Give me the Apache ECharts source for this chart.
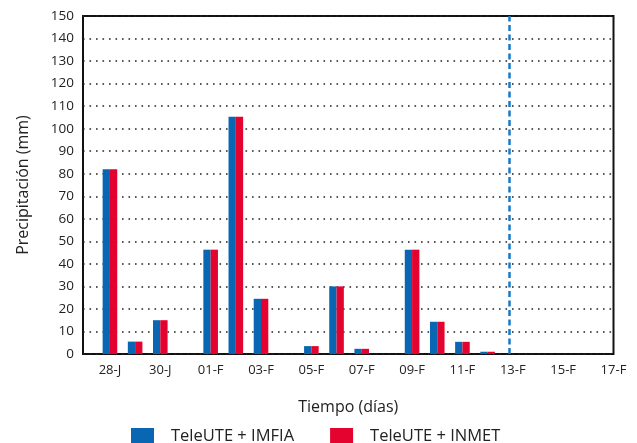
<!DOCTYPE html>
<html><head><meta charset="utf-8">
<script src="https://cdn.jsdelivr.net/npm/echarts@6/dist/echarts.min.js"></script>
<style>html,body{margin:0;padding:0;background:#fff}#c{width:637px;height:443px}</style>
</head><body><div id="c"></div>
<script>
const days = ['28-J','29-J','30-J','31-J','01-F','02-F','03-F','04-F','05-F','06-F','07-F','08-F','09-F','10-F','11-F','12-F','13-F','14-F','15-F','16-F','17-F'];
const imfia = [82, 5.5, 15, 0, 46.3, 105.3, 24.5, 0, 3.5, 30, 2.3, 0, 46.3, 14.3, 5.4, 1, 0, 0, 0, 0, 0];
const inmet = [82, 5.5, 15, 0, 46.3, 105.3, 24.5, 0, 3.5, 30, 2.3, 0, 46.3, 14.3, 5.4, 1, 0, 0, 0, 0, 0];
const labelIdx = [0,2,4,6,8,10,12,14,16,18,20];
const cutoffDay = '13-F';
const FONT = '"Open Sans", "Noto Sans", sans-serif';

const chart = echarts.init(document.getElementById('c'));
const toPairs = arr => arr.map((v,i)=>[i,v]);
chart.setOption({
  animation:false,
  textStyle:{fontFamily:FONT},
  grid:{left:83, top:16, right:23.5, bottom:89, show:true, borderColor:'#111', borderWidth:2, containLabel:false},
  xAxis:{type:'value', min:-1.07, max:20,
    name:'Tiempo (días)', nameLocation:'middle', nameGap:45,
    nameTextStyle:{fontSize:16, color:'#222', fontFamily:FONT},
    axisLine:{show:false}, axisTick:{show:false}, splitLine:{show:false},
    axisLabel:{customValues:labelIdx, formatter:v=>days[Math.round(v)], fontSize:13, color:'#222', margin:10, fontFamily:FONT}
  },
  yAxis:{type:'value', min:0, max:150, interval:10,
    name:'Precipitación (mm)', nameLocation:'middle', nameGap:52, nameRotate:90,
    nameTextStyle:{fontSize:16, color:'#222', fontFamily:FONT},
    axisLine:{show:false}, axisTick:{show:false},
    axisLabel:{fontSize:13.5, color:'#222', margin:9, fontFamily:FONT},
    splitLine:{show:true, lineStyle:{color:'#222', width:1.6, type:[1.6,4.9]}}
  },
  legend:{left:126, top:423, itemWidth:23, itemHeight:17, itemGap:36, icon:'rect',
    textStyle:{fontSize:16.5, color:'#222', fontFamily:FONT, padding:[0,0,0,12]},
    data:['TeleUTE + IMFIA','TeleUTE + INMET']},
  series:[
    {name:'TeleUTE + IMFIA', type:'bar', data:toPairs(imfia), barWidth:7.3, barGap:'0%', itemStyle:{color:'#0866b2'},
     markLine:{silent:true, symbol:'none', label:{show:false},
       lineStyle:{color:'#1b78c6', width:2.5, type:[6,3.5]},
       data:[{xAxis:days.indexOf(cutoffDay)}]}},
    {name:'TeleUTE + INMET', type:'bar', data:toPairs(inmet), barWidth:7.3, barGap:'0%', itemStyle:{color:'#e4022e'}}
  ]
});
</script></body></html>
